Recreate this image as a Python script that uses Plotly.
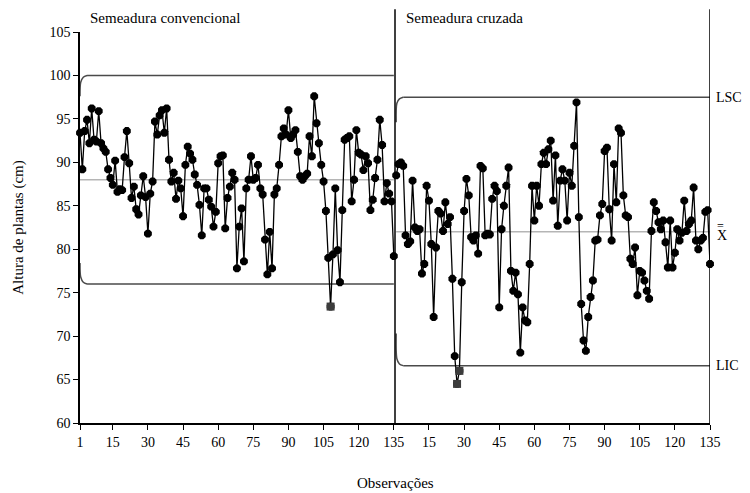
import plotly.graph_objects as go

# ---------------- data ----------------
phase1_name = "Semeadura convencional"
phase2_name = "Semeadura cruzada"

phase1_values = [
    93.4, 89.2, 93.6, 94.9, 92.2, 96.2, 92.6, 92.4, 95.9, 92.2,
    91.6, 91.2, 89.2, 88.2, 87.4, 90.2, 86.6, 86.9, 86.8, 90.6,
    93.6, 89.9, 85.9, 87.2, 84.6, 84.0, 86.2, 88.4, 86.0, 81.8,
    86.4, 87.8, 94.7, 93.2, 95.4, 96.0, 93.4, 96.2, 90.3, 87.8,
    88.8, 85.8, 87.9, 87.0, 83.8, 89.7, 91.8, 91.0, 90.3, 88.6,
    87.4, 85.1, 81.6, 87.0, 87.0, 85.7, 84.9, 82.6, 84.3, 89.9,
    90.7, 90.8, 82.4, 85.9, 87.2, 88.8, 88.0, 77.8, 82.6, 84.7,
    78.6, 87.0, 88.0, 90.7, 88.0, 88.2, 89.7, 87.0, 86.3, 81.1,
    77.1, 82.0, 77.8, 86.3, 87.0, 89.7, 93.0, 93.9, 93.2, 96.0,
    92.8, 93.2, 93.7, 91.2, 88.4, 88.0, 88.4, 88.7, 93.0, 90.7,
    97.6, 94.5, 92.2, 89.7, 87.8, 84.4, 79.0, 73.4, 79.4, 87.0,
    79.9, 76.2, 84.5, 92.6, 92.8, 93.0, 85.5, 88.0, 93.7, 91.1,
    90.9, 89.1, 90.7, 89.9, 84.5, 85.7, 88.2, 90.3, 94.9, 92.0,
    85.5, 87.6, 86.4, 85.5, 79.2,
]

phase2_values = [
    88.5, 89.8, 90.0, 89.6, 81.6, 80.6, 80.9, 87.9, 82.5, 82.1,
    82.3, 77.2, 78.3, 87.3, 85.6, 80.6, 72.2, 80.2, 84.4, 84.1,
    82.1, 85.4, 82.9, 83.7, 76.6, 67.7, 64.5, 66.0, 76.2, 84.4,
    88.1, 86.2, 81.4, 81.0, 81.6, 79.5, 89.6, 89.3, 81.6, 81.8,
    81.7, 85.8, 87.3, 86.7, 73.3, 82.3, 85.0, 87.3, 89.4, 77.5,
    75.2, 77.3, 74.8, 68.1, 73.3, 71.8, 71.6, 78.3, 87.3, 83.3,
    87.3, 85.0, 89.8, 91.1, 89.8, 91.5, 92.5, 85.6, 90.8, 82.7,
    87.9, 89.2, 87.9, 83.3, 88.8, 87.3, 91.9, 96.9, 83.7, 73.7,
    69.5, 68.3, 72.2, 74.5, 76.4, 81.0, 81.1, 83.9, 85.2, 91.3,
    91.7, 84.6, 81.0, 89.8, 85.4, 93.9, 93.4, 86.2, 83.9, 83.7,
    78.9, 78.3, 80.2, 74.7, 77.5, 77.3, 76.4, 75.2, 74.3, 82.1,
    85.4, 84.4, 83.1, 82.3, 83.3, 80.8, 77.9, 83.3, 77.9, 79.6,
    82.3, 81.0, 81.9, 85.6, 82.1, 82.9, 83.3, 87.1, 81.0, 80.0,
    81.0, 81.3, 84.3, 84.5, 78.3,
]

# control limits (LSC, X-double-bar, LIC) for each phase
ucl1, cl1, lcl1 = 100.0, 88.0, 76.0
ucl2, cl2, lcl2 = 97.5, 82.0, 66.6
# limits are wider at the first observation of each phase
ucl1_start = [97.6, 99.2, 99.8]
lcl1_start = [78.4, 76.8, 76.2]
ucl2_start = [94.6, 96.8, 97.3]
lcl2_start = [70.3, 67.4, 66.8]

tick_obs = [1, 15, 30, 45, 60, 75, 90, 105, 120, 135]
limit_labels = ["LSC", "X", "LIC"]

# ---------------- figure ----------------
n1 = len(phase1_values)
n2 = len(phase2_values)
x1 = list(range(1, n1 + 1))
x2 = list(range(n1 + 1, n1 + n2 + 1))

FONT = "Liberation Serif, Times New Roman, serif"
LIM_COLOR = "#4a4a4a"
CL_COLOR = "#b5b5b5"

fig = go.Figure()

# center lines
fig.add_trace(go.Scatter(x=[x1[0], x1[-1]], y=[cl1, cl1], mode="lines",
                         line=dict(color=CL_COLOR, width=1.5), hoverinfo="skip"))
fig.add_trace(go.Scatter(x=[x2[0], x2[-1]], y=[cl2, cl2], mode="lines",
                         line=dict(color=CL_COLOR, width=1.5), hoverinfo="skip"))

# limit lines (rounded start, then straight)
def add_limit(xs, start_vals, val):
    x0 = xs[0]
    fig.add_trace(go.Scatter(x=[x0, x0 + 0.3, x0 + 1.4, x0 + 3.0],
                             y=[start_vals[0], start_vals[1], start_vals[2], val],
                             mode="lines", line=dict(color=LIM_COLOR, width=1.5, shape="spline", smoothing=0.8),
                             hoverinfo="skip", cliponaxis=False))
    fig.add_trace(go.Scatter(x=[x0 + 3.0, xs[-1]], y=[val, val], mode="lines",
                             line=dict(color=LIM_COLOR, width=1.5), hoverinfo="skip"))

add_limit(x1, ucl1_start, ucl1)
add_limit(x1, lcl1_start, lcl1)
add_limit(x2, ucl2_start, ucl2)
add_limit(x2, lcl2_start, lcl2)

# observations
for xs, vals, lo, hi in [(x1, phase1_values, lcl1, ucl1), (x2, phase2_values, lcl2, ucl2)]:
    fig.add_trace(go.Scatter(x=xs, y=vals, mode="lines+markers",
                             line=dict(color="black", width=1.3),
                             marker=dict(symbol="octagon", size=8.5, color="black"),
                             cliponaxis=False))
    ox = [x for x, v in zip(xs, vals) if v < lo or v > hi]
    oy = [v for v in vals if v < lo or v > hi]
    fig.add_trace(go.Scatter(x=ox, y=oy, mode="markers",
                             marker=dict(symbol="square", size=8, color="#3c3c3c"),
                             cliponaxis=False))

tickvals = tick_obs + [n1 + t for t in tick_obs[1:]]
ticktext = [str(t) for t in tick_obs] + [str(t) for t in tick_obs[1:]]

fig.update_layout(
    width=750, height=493,
    margin=dict(l=72, r=48, t=24, b=78),
    paper_bgcolor="white", plot_bgcolor="white",
    showlegend=False,
    font=dict(family=FONT, size=14, color="black"),
    xaxis=dict(range=[1, n1 + n2], tickvals=tickvals, ticktext=ticktext,
               showgrid=False, zeroline=False, showline=True, linecolor="black", linewidth=1.5,
               ticks="outside", ticklen=5, tickcolor="black", tickwidth=1,
               tickfont=dict(family=FONT, size=14)),
    yaxis=dict(range=[60, 105], dtick=5, tick0=60,
               showgrid=False, zeroline=False, showline=True, linecolor="black", linewidth=1.5,
               ticks="outside", ticklen=5, tickcolor="black", tickwidth=1,
               tickfont=dict(family=FONT, size=14)),
)

# phase divider and right border
for xv in [n1 + 0.5, n1 + n2]:
    fig.add_shape(type="line", xref="x", yref="paper", x0=xv, x1=xv, y0=0, y1=1.058,
                  line=dict(color="black", width=1.5))

RFONT = dict(family=FONT, size=14, color="black")
ann = [
    dict(text=phase1_name, x=0.012, y=1.036, xref="paper", yref="paper", xanchor="left"),
    dict(text=phase2_name, x=0.514, y=1.036, xref="paper", yref="paper", xanchor="left"),
    dict(text=limit_labels[0], x=1.006, y=ucl2, xref="paper", yref="y", xanchor="left", font=RFONT),
    dict(text=limit_labels[1], x=1.008, y=cl2, xref="paper", yref="y", xanchor="left", yshift=-4, font=RFONT),
    dict(text="=", x=1.0085, y=cl2, xref="paper", yref="y", xanchor="left", yshift=6,
         font=dict(family=FONT, size=12, color="black")),
    dict(text=limit_labels[2], x=1.006, y=lcl2, xref="paper", yref="y", xanchor="left", font=RFONT),
    dict(text="Altura de plantas (cm)", x=-0.098, y=0.5, xref="paper", yref="paper",
         textangle=-90, xanchor="center"),
    dict(text="Observações", x=0.5, y=-0.153, xref="paper", yref="paper", xanchor="center"),
]
for a in ann:
    a.setdefault("font", dict(family=FONT, size=15, color="black"))
    fig.add_annotation(showarrow=False, yanchor="middle", **a)

fig.write_html("out.html")
